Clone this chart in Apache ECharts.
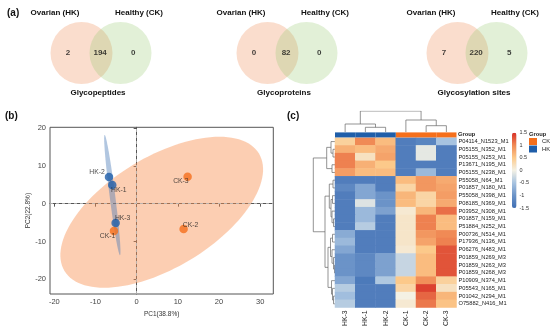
<!DOCTYPE html>
<html><head><meta charset="utf-8">
<script src="https://cdn.jsdelivr.net/npm/echarts@6/dist/echarts.min.js"></script>
<style>html,body{margin:0;padding:0;background:#fff}#c{width:550px;height:329px}</style>
</head><body><div id="c"></div>
<script>
// ---------- Panel (a): Venn diagrams ----------
const vennTitles = ['Glycopeptides', 'Glycoproteins', 'Glycosylation sites'];
const vennSetNames = ['Ovarian (HK)', 'Healthy (CK)'];
const vennHKOnly = [2, 0, 7];
const vennBoth = [194, 82, 220];
const vennCKOnly = [0, 0, 5];

// ---------- Panel (b): PCA ----------
const pcaSamples = ['HK-1', 'HK-2', 'HK-3', 'CK-1', 'CK-2', 'CK-3'];
const pcaGroup = ['HK', 'HK', 'HK', 'CK', 'CK', 'CK'];
const pc1 = [-5.92, -6.72, -5.10, -5.51, 11.41, 12.38];
const pc2 = [4.92, 7.04, -5.13, -7.25, -6.72, 7.14];
const pcaXTicks = [-20, -10, 0, 10, 20, 30];
const pcaYTicks = [-20, -10, 0, 10, 20];
const pc1Name = 'PC1(38.8%)';
const pc2Name = 'PC2(22.8%)';

// ---------- Panel (c): heatmap ----------
const heatCols = ['HK-3', 'HK-1', 'HK-2', 'CK-1', 'CK-2', 'CK-3'];
const heatColGroup = ['HK', 'HK', 'HK', 'CK', 'CK', 'CK'];
const heatRows = ['P04114_N1523_M1','P05155_N352_M1','P05155_N253_M1','P13671_N195_M1','P05155_N238_M1',
  'P55058_N64_M1','P01857_N180_M1','P55058_N398_M1','P08185_N369_M1','P03952_N308_M1','P01857_N159_M1',
  'P51884_N252_M1','P00736_N514_M1','P17936_N136_M1','P06276_N483_M1','P01859_N269_M3','P01859_N263_M3',
  'P01859_N268_M3','P10909_N374_M1','P05543_N165_M1','P01042_N294_M1','O75882_N416_M1'];
const heatValues = [
  [0.4, 1.0, 0.6, -1.3, -1.2, -0.5],
  [0.7, 0.6, 0.75, -1.3, -0.1, -1.3],
  [1.05, 0.2, 0.8, -1.3, -0.1, -1.3],
  [1.05, 0.7, 0.5, -1.3, -1.3, -1.3],
  [0.85, 0.6, 0.6, -1.3, -0.6, -1.3],
  [-1.3, -1.3, -1.3, 0.6, 0.9, 0.75],
  [-1.15, -0.8, -1.3, 0.35, 0.9, 0.8],
  [-1.3, -0.8, -1.0, 0.65, 0.35, 0.85],
  [-1.3, -0.15, -1.0, 0.6, 0.35, 0.75],
  [-1.3, -0.6, -0.85, 0.1, 0.65, 1.15],
  [-1.3, -0.6, -1.3, 0.15, 1.05, 0.6],
  [-1.3, -0.4, -1.3, 0.15, 1.05, 0.6],
  [-0.75, -1.3, -1.3, 0.15, 0.9, 1.0],
  [-0.6, -1.3, -1.3, 0.15, 0.8, 1.05],
  [-0.8, -1.3, -1.3, 0.1, 0.5, 1.3],
  [-1.0, -1.15, -0.85, -0.3, 0.6, 1.3],
  [-1.0, -1.15, -0.85, -0.3, 0.6, 1.3],
  [-1.0, -1.15, -0.85, -0.3, 0.6, 1.3],
  [-0.8, -1.35, -0.45, 0.5, 0.95, 0.4],
  [-0.4, -1.3, -1.3, 0.35, 1.4, 0.2],
  [-0.55, -1.3, -1.3, 0.0, 1.2, 0.65],
  [-0.4, -1.3, -1.3, 0.1, 1.1, 0.55]
];
// dendrogram merges: [childA, childB, height]; leaves are 0..n-1, merged nodes n, n+1, ...
const colMerges = [[1, 2, 4.7], [0, 6, 8], [4, 5, 6.3], [3, 8, 12], [7, 9, 21]];
const rowMerges = [
  [1, 2, 2], [0, 22, 4], [3, 4, 3], [23, 24, 8.3],
  [5, 6, 2], [7, 8, 2.5], [10, 11, 1.5], [9, 28, 3], [27, 29, 4], [26, 30, 5.7],
  [12, 13, 2.5], [16, 17, 0.5], [15, 33, 1.5], [14, 34, 3], [32, 35, 4.5],
  [20, 21, 1.5], [19, 37, 2.5], [18, 38, 3.5], [36, 39, 7], [31, 40, 10], [25, 41, 21.7]
];
const colorbarTicks = [-1.5, -1, -0.5, 0, 0.5, 1, 1.5];
const groupNames = ['CK', 'HK'];

// ---------- styles / layout ----------
const FONT = '"Liberation Sans", Arial, sans-serif';
const HK_COLOR = '#1f5ea9', CK_COLOR = '#f56f1b';
const vennCenters = [101, 287, 477];

function dendroLines(merges, nLeaves, swap) {
  const pos = [], hgt = [];
  for (let i = 0; i < nLeaves; i++) { pos[i] = i + 0.5; hgt[i] = 0; }
  const out = [];
  merges.forEach((m, k) => {
    const [a, b, h] = m, id = nLeaves + k;
    pos[id] = (pos[a] + pos[b]) / 2; hgt[id] = h;
    let c = [[pos[a], hgt[a]], [pos[a], h], [pos[b], h], [pos[b], hgt[b]]];
    if (swap) c = c.map(p => [p[1], p[0]]);
    out.push({ coords: c });
  });
  return out;
}

function ellipse(xs, ys, k, n) {
  const m = xs.length;
  const mx = xs.reduce((a, b) => a + b) / m, my = ys.reduce((a, b) => a + b) / m;
  let sxx = 0, syy = 0, sxy = 0;
  for (let i = 0; i < m; i++) { const dx = xs[i] - mx, dy = ys[i] - my; sxx += dx * dx; syy += dy * dy; sxy += dx * dy; }
  sxx /= (m - 1); syy /= (m - 1); sxy /= (m - 1);
  const tr = sxx + syy, det = sxx * syy - sxy * sxy;
  const disc = Math.sqrt(Math.max(0, tr * tr / 4 - det));
  const l1 = tr / 2 + disc, l2 = Math.max(tr / 2 - disc, 0);
  const th = Math.atan2(l1 - sxx, sxy);
  const A = k * Math.sqrt(l1), B = k * Math.sqrt(l2);
  const pts = [];
  for (let i = 0; i < n; i++) {
    const t = 2 * Math.PI * i / n;
    const a = A * Math.cos(t), b = B * Math.sin(t);
    pts.push([mx + a * Math.cos(th) - b * Math.sin(th), my + a * Math.sin(th) + b * Math.cos(th)]);
  }
  return { cx: mx, cy: my, pts };
}

const chi95 = Math.sqrt(5.991);
const sel = g => pcaGroup.map((x, i) => x === g ? i : -1).filter(i => i >= 0);
const ckIdx = sel('CK'), hkIdx = sel('HK');
const ellipses = [
  Object.assign(ellipse(ckIdx.map(i => pc1[i]), ckIdx.map(i => pc2[i]), chi95, 120), { fill: 'rgba(249,146,84,0.45)' }),
  Object.assign(ellipse(hkIdx.map(i => pc1[i]), hkIdx.map(i => pc2[i]), chi95, 120), { fill: 'rgba(70,120,180,0.42)' })
];
const labelOffsets = { 'HK-1': [6.5, 4.6], 'HK-2': [-12, -5], 'HK-3': [7, -5], 'CK-1': [-6.5, 5], 'CK-2': [7, -4.4], 'CK-3': [-6.7, 4.7] };

const grids = [], xAxes = [], yAxes = [], series = [], graphics = [];

// ---- Venn grids ----
vennCenters.forEach((M, v) => {
  grids.push({ left: M - 60, top: 22, width: 120, height: 62 });
  xAxes.push({ gridIndex: v, type: 'value', min: -2, max: 2, show: false });
  yAxes.push({ gridIndex: v, type: 'value', min: -1, max: 1, show: false });
  series.push({
    type: 'scatter', xAxisIndex: v, yAxisIndex: v, symbolSize: 62, silent: true,
    data: [
      { value: [-0.65, 0], itemStyle: { color: 'rgba(240,150,100,0.4)' } },
      { value: [0.65, 0], itemStyle: { color: 'rgba(150,200,110,0.35)' } }
    ]
  });
  const counts = [vennHKOnly[v], vennBoth[v], vennCKOnly[v]];
  series.push({
    type: 'scatter', xAxisIndex: v, yAxisIndex: v, symbolSize: 0, silent: true,
    label: { show: true, position: 'inside', formatter: p => p.data.n, fontSize: 8, fontWeight: 'bold', color: '#111', fontFamily: FONT },
    data: [[-1.1, 0], [-0.03, 0], [1.07, 0]].map((p, i) => ({ value: p, n: String(counts[i]) }))
  });
  graphics.push({ type: 'text', x: M - 46, y: 13, style: { text: vennSetNames[0], font: 'bold 8px ' + FONT, fill: '#111', textAlign: 'center', textVerticalAlign: 'middle' } });
  graphics.push({ type: 'text', x: M + 38, y: 13, style: { text: vennSetNames[1], font: 'bold 8px ' + FONT, fill: '#111', textAlign: 'center', textVerticalAlign: 'middle' } });
  graphics.push({ type: 'text', x: M - 3, y: 93, style: { text: vennTitles[v], font: 'bold 8px ' + FONT, fill: '#111', textAlign: 'center', textVerticalAlign: 'middle' } });
});

// ---- PCA grid (index 3) ----
grids.push({ left: 50, top: 127.3, width: 223.3, height: 166.7, show: true, borderColor: '#555', borderWidth: 1 });
const axColor = '#555';
xAxes.push({
  gridIndex: 3, type: 'value', min: -21.05, max: 33.2, name: pc1Name, nameLocation: 'middle', nameGap: 15,
  nameTextStyle: { fontSize: 6.5, color: '#333', fontFamily: FONT },
  axisLine: { lineStyle: { color: axColor } }, splitLine: { show: false },
  axisTick: { length: 3, lineStyle: { color: axColor }, customValues: pcaXTicks },
  axisLabel: { fontSize: 7.5, color: '#444', margin: 4, fontFamily: FONT, customValues: pcaXTicks }
});
yAxes.push({
  gridIndex: 3, type: 'value', min: -23.9, max: 20.2, name: pc2Name, nameLocation: 'middle', nameGap: 17,
  nameTextStyle: { fontSize: 6.5, color: '#333', fontFamily: FONT },
  axisLine: { lineStyle: { color: axColor } }, splitLine: { show: false },
  axisTick: { length: 3, lineStyle: { color: axColor }, customValues: pcaYTicks },
  axisLabel: { fontSize: 7.5, color: '#444', margin: 4, fontFamily: FONT, customValues: pcaYTicks }
});
series.push({
  type: 'custom', xAxisIndex: 3, yAxisIndex: 3, silent: true,
  data: ellipses.map(e => [e.cx, e.cy]), encode: { x: 0, y: 1 },
  renderItem: (params, api) => {
    const e = ellipses[params.dataIndex];
    return { type: 'polygon', shape: { points: e.pts.map(p => api.coord(p)) }, style: { fill: e.fill } };
  }
});
series.push({
  type: 'scatter', xAxisIndex: 3, yAxisIndex: 3, symbolSize: 8.5, silent: true,
  data: pcaSamples.map((s, i) => ({
    value: [pc1[i], pc2[i]], name: s,
    itemStyle: { color: pcaGroup[i] === 'HK' ? HK_COLOR : CK_COLOR },
    label: { show: true, position: 'inside', offset: labelOffsets[s], formatter: s, fontSize: 6.8, color: '#222', fontFamily: FONT }
  })),
  markLine: {
    silent: true, symbol: 'none', label: { show: false },
    lineStyle: { type: [3, 3], color: '#c4c4c4', width: 0.8 },
    data: [{ xAxis: 0 }, { yAxis: 0 }]
  }
});

// ---- column dendrogram (grid 4) ----
grids.push({ left: 335, top: 111, width: 121.5, height: 21 });
xAxes.push({ gridIndex: 4, type: 'value', min: 0, max: heatCols.length, show: false });
yAxes.push({ gridIndex: 4, type: 'value', min: 0, max: 21, show: false });
series.push({
  type: 'lines', coordinateSystem: 'cartesian2d', xAxisIndex: 4, yAxisIndex: 4, polyline: true, silent: true,
  lineStyle: { color: '#666', width: 0.7, opacity: 1 }, data: dendroLines(colMerges, heatCols.length, false)
});

// ---- group bar (grid 5) ----
grids.push({ left: 335, top: 132.4, width: 121.5, height: 5 });
xAxes.push({ gridIndex: 5, type: 'category', data: heatCols, show: false });
yAxes.push({ gridIndex: 5, type: 'value', min: 0, max: 1, show: false });
groupNames.forEach(g => {
  series.push({
    type: 'bar', name: g, xAxisIndex: 5, yAxisIndex: 5, barWidth: '100%', barGap: '-100%', silent: true,
    itemStyle: { color: g === 'HK' ? HK_COLOR : CK_COLOR },
    data: heatColGroup.map(x => x === g ? 1 : '-')
  });
});

// ---- row dendrogram (grid 6) ----
grids.push({ left: 312, top: 137.7, width: 23, height: 170 });
xAxes.push({ gridIndex: 6, type: 'value', min: 0, max: 23, inverse: true, show: false });
yAxes.push({ gridIndex: 6, type: 'value', min: 0, max: heatRows.length, inverse: true, show: false });
series.push({
  type: 'lines', coordinateSystem: 'cartesian2d', xAxisIndex: 6, yAxisIndex: 6, polyline: true, silent: true,
  lineStyle: { color: '#666', width: 0.7, opacity: 1 }, data: dendroLines(rowMerges, heatRows.length, true)
});

// ---- heatmap (grid 7) ----
grids.push({ left: 335, top: 137.7, width: 121.5, height: 170 });
xAxes.push({
  gridIndex: 7, type: 'category', data: heatCols, axisLine: { show: false }, axisTick: { show: false },
  axisLabel: { rotate: 90, fontSize: 6.8, color: '#222', margin: 3, fontFamily: FONT, interval: 0 }
});
yAxes.push({
  gridIndex: 7, type: 'category', data: heatRows, inverse: true, position: 'right', axisLine: { show: false }, axisTick: { show: false },
  axisLabel: { fontSize: 5.7, color: '#222', margin: 2, fontFamily: FONT, interval: 0 }
});
const heatSeriesIndex = series.length;
const heatData = [];
heatValues.forEach((row, r) => row.forEach((v, c) => heatData.push([c, r, v])));
series.push({ type: 'heatmap', xAxisIndex: 7, yAxisIndex: 7, data: heatData, silent: true, itemStyle: { borderWidth: 0 } });

// ---- colorbar tick labels (grid 8) ----
grids.push({ left: 512, top: 132.7, width: 4.5, height: 75.3 });
xAxes.push({ gridIndex: 8, type: 'value', show: false, min: 0, max: 1 });
yAxes.push({
  gridIndex: 8, type: 'value', min: -1.5, max: 1.5, position: 'right',
  axisLine: { show: false }, axisTick: { show: false }, splitLine: { show: false },
  axisLabel: { fontSize: 5.5, color: '#333', margin: 3, fontFamily: FONT, customValues: colorbarTicks }
});

graphics.push({ type: 'text', x: 7, y: 13, style: { text: '(a)', font: 'bold 10px ' + FONT, fill: '#111', textVerticalAlign: 'middle' } });
graphics.push({ type: 'text', x: 5, y: 116, style: { text: '(b)', font: 'bold 10px ' + FONT, fill: '#111', textVerticalAlign: 'middle' } });
graphics.push({ type: 'text', x: 287, y: 116, style: { text: '(c)', font: 'bold 10px ' + FONT, fill: '#111', textVerticalAlign: 'middle' } });
graphics.push({ type: 'text', x: 458, y: 134.5, style: { text: 'Group', font: 'bold 5.8px ' + FONT, fill: '#222', textVerticalAlign: 'middle' } });
graphics.push({ type: 'text', x: 529, y: 134.5, style: { text: 'Group', font: 'bold 5.8px ' + FONT, fill: '#222', textVerticalAlign: 'middle' } });

const chart = echarts.init(document.getElementById('c'), null, { renderer: 'canvas' });
chart.setOption({
  animation: false,
  backgroundColor: '#fff',
  grid: grids, xAxis: xAxes, yAxis: yAxes, series: series,
  legend: {
    data: groupNames, left: 529, top: 138, orient: 'vertical', icon: 'rect', itemWidth: 8, itemHeight: 7,
    itemGap: 0.5, padding: 0, selectedMode: false, textStyle: { fontSize: 5.8, color: '#222', fontFamily: FONT }
  },
  visualMap: {
    type: 'continuous', min: -1.5, max: 1.5, seriesIndex: [heatSeriesIndex], calculable: false, padding: 0,
    left: 512, top: 132.7, itemWidth: 4.5, itemHeight: 75.3,
    inRange: { color: ['#3f6fb4', '#6b93c8', '#a7c3e0', '#f4f1e4', '#fcc98a', '#f08a55', '#d73027'] }
  },
  graphic: graphics
});
</script></body></html>
